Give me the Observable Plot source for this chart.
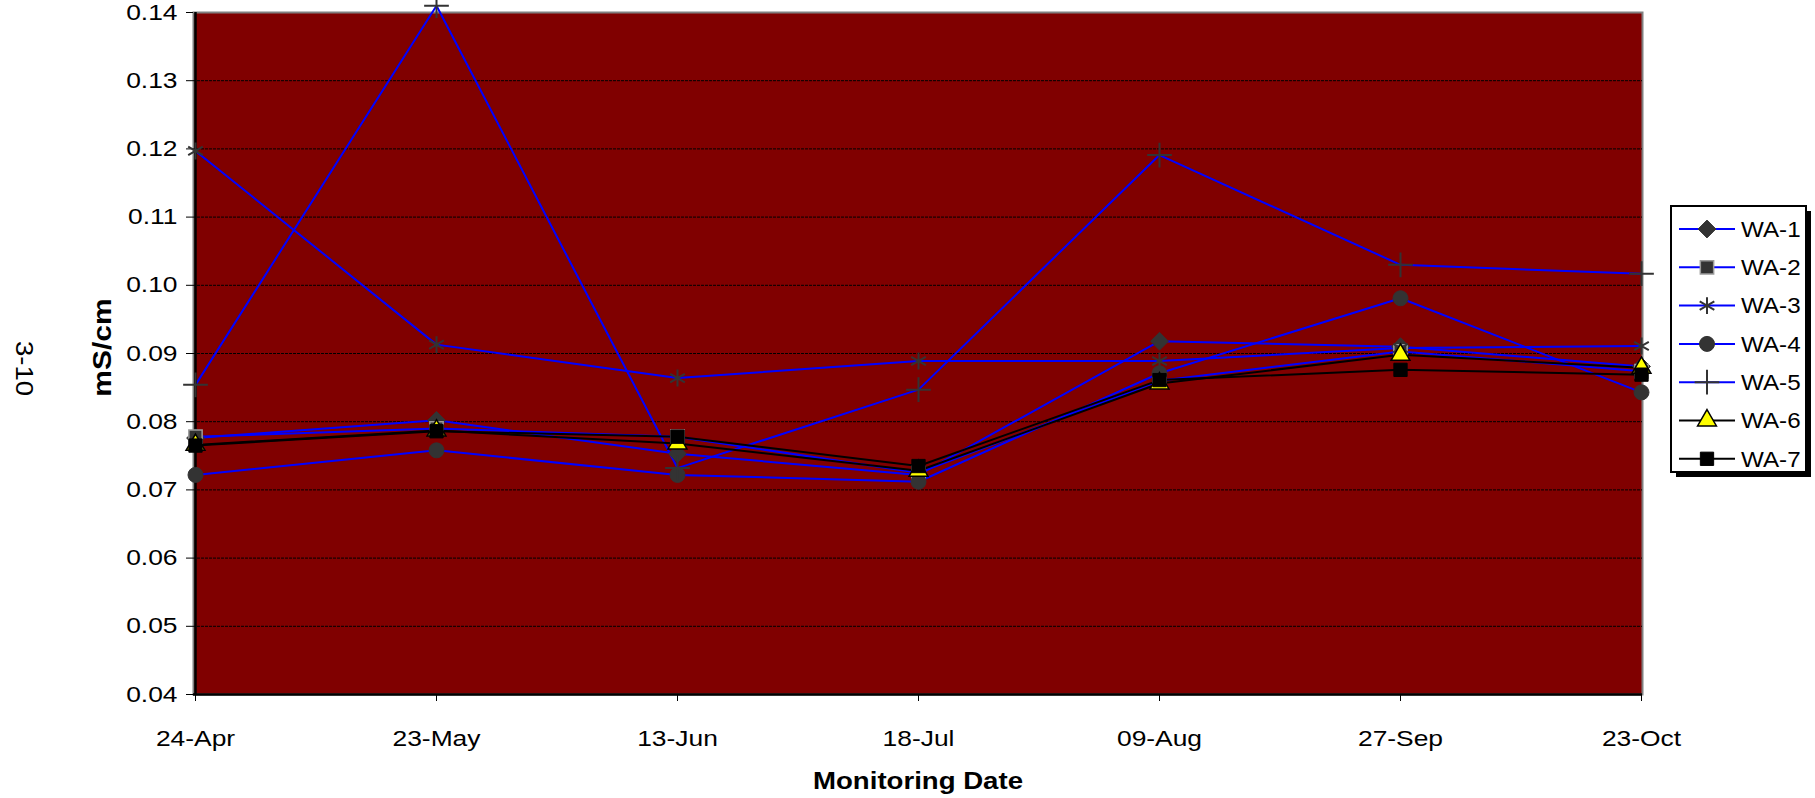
<!DOCTYPE html>
<html>
<head>
<meta charset="utf-8">
<script src="https://cdn.jsdelivr.net/npm/d3@7"></script>
<script src="https://cdn.jsdelivr.net/npm/@observablehq/plot@0.6"></script>
<style>
  html, body { margin: 0; padding: 0; background: #ffffff; }
  #wrap { position: relative; width: 1815px; height: 798px; }
  #legend { position: absolute; left: 0; top: 0; pointer-events: none; }
</style>
</head>
<body>
<div id="wrap"></div>
<script>
// ---- data ----
const dates = ["24-Apr", "23-May", "13-Jun", "18-Jul", "09-Aug", "27-Sep", "23-Oct"];
const seriesNames = ["WA-1", "WA-2", "WA-3", "WA-4", "WA-5", "WA-6", "WA-7"];
const wa1 = [0.0776, 0.0802, 0.0753, 0.0722, 0.0918, 0.0910, 0.0881];
const wa2 = [0.0778, 0.0790, 0.0778, 0.0725, 0.0860, 0.0903, 0.0874];
const wa3 = [0.1197, 0.0913, 0.0864, 0.0889, 0.0889, 0.0908, 0.0911];
const wa4 = [0.0722, 0.0758, 0.0722, 0.0712, 0.0871, 0.0981, 0.0843];
const wa5 = [0.0854, 0.1410, 0.0732, 0.0847, 0.1191, 0.1030, 0.1017];
const wa6 = [0.0766, 0.0787, 0.0768, 0.0728, 0.0856, 0.0898, 0.0879];
const wa7 = [0.0765, 0.0786, 0.0778, 0.0735, 0.0861, 0.0876, 0.0869];
const yTicks = [0.04, 0.05, 0.06, 0.07, 0.08, 0.09, 0.10, 0.11, 0.12, 0.13, 0.14];

// ---- styles per series ----
const values = [wa1, wa2, wa3, wa4, wa5, wa6, wa7];
const lineColor = ["#0000ff", "#0000ff", "#0000ff", "#0000ff", "#0000ff", "#000000", "#000000"];
const markerStyle = [
  {symbol: "diamond2", r: 8, fill: "#333333", stroke: "#333333", strokeWidth: 1},
  {symbol: "square", r: 7.5, fill: "#333333", stroke: "#9a9a9a", strokeWidth: 1.5},
  {symbol: "asterisk", r: 8, fill: "none", stroke: "#333333", strokeWidth: 2},
  {symbol: "circle", r: 7.5, fill: "#333333", stroke: "#333333", strokeWidth: 1},
  {symbol: "plus", r: 8, fill: "none", stroke: "#333333", strokeWidth: 2},
  {symbol: "triangle", r: 7, fill: "#ffff00", stroke: "#000000", strokeWidth: 1.5},
  {symbol: "square", r: 7.5, fill: "#000000", stroke: "#000000", strokeWidth: 1}
];

const rows = seriesNames.map((name, i) => dates.map((d, j) => ({series: name, date: d, value: values[i][j]})));

const FONT = "'Liberation Sans', Arial, sans-serif";

const marks = [
  Plot.frame({fill: "#800000", stroke: "#808080", strokeWidth: 2}),
  Plot.ruleY(yTicks.slice(1, -1), {stroke: "#000000", strokeWidth: 1, strokeDasharray: "3,1"}),
  Plot.axisX({tickSize: 7, tickPadding: 29, label: null, fontSize: 22, stroke: "#000"}),
  Plot.axisY({ticks: yTicks, tickSize: 7, tickPadding: 9, tickFormat: d => d.toFixed(2), label: null, fontSize: 22})
];
rows.forEach((r, i) => {
  marks.push(Plot.line(r, {x: "date", y: "value", stroke: lineColor[i], strokeWidth: 2}));
});
marks.push(Plot.ruleX([dates[0]], {stroke: "#000000", strokeWidth: 2.5}));
marks.push(Plot.ruleY([0.04], {stroke: "#000000", strokeWidth: 2.5}));
rows.forEach((r, i) => {
  const m = markerStyle[i];
  marks.push(Plot.dot(r, {x: "date", y: "value", symbol: m.symbol, r: m.r, fill: m.fill, stroke: m.stroke, strokeWidth: m.strokeWidth}));
});
marks.push(Plot.text(["mS/cm"], {frameAnchor: "left", textAnchor: "middle", dx: -91, dy: -6, rotate: -90, fontWeight: "bold", fontSize: 25}));
marks.push(Plot.text(["3-10"], {frameAnchor: "left", textAnchor: "middle", dx: -170, dy: 15, rotate: 90, fontSize: 23}));
marks.push(Plot.text(["Monitoring Date"], {frameAnchor: "bottom", textAnchor: "middle", dy: 94, fontWeight: "bold", fontSize: 23}));

const chart = Plot.plot({
  width: 1815,
  height: 798,
  marginLeft: 193,
  marginRight: 173,
  marginTop: 12,
  marginBottom: 104,
  style: {fontFamily: FONT, fontSize: "22px", color: "#000", background: "#fff", overflow: "visible"},
  x: {type: "point", domain: dates, padding: 0},
  y: {type: "linear", domain: [0.04, 0.14]},
  marks
});
document.getElementById("wrap").appendChild(chart);

// ---- legend (drawn with d3 from the series arrays) ----
const lg = d3.select("#wrap").append("svg")
  .attr("id", "legend").attr("width", 1815).attr("height", 798)
  .style("font-family", FONT);
const box = {x: 1671, y: 206, w: 135, h: 266};
lg.append("rect").attr("x", box.x + 5).attr("y", box.y + 5).attr("width", box.w).attr("height", box.h).attr("fill", "#000");
lg.append("rect").attr("x", box.x).attr("y", box.y).attr("width", box.w).attr("height", box.h)
  .attr("fill", "#fff").attr("stroke", "#000").attr("stroke-width", 2);
const symMap = {
  diamond2: d3.symbolDiamond2, square: d3.symbolSquare, asterisk: d3.symbolAsterisk,
  circle: d3.symbolCircle, plus: d3.symbolPlus, triangle: d3.symbolTriangle
};
seriesNames.forEach((name, i) => {
  const cy = box.y + 23 + i * 38.3;
  const g = lg.append("g");
  g.append("line").attr("x1", box.x + 8).attr("x2", box.x + 64).attr("y1", cy).attr("y2", cy)
    .attr("stroke", lineColor[i]).attr("stroke-width", 2);
  const m = markerStyle[i];
  g.append("path")
    .attr("transform", `translate(${box.x + 36},${cy})`)
    .attr("d", d3.symbol(symMap[m.symbol], m.r * m.r * Math.PI)())
    .attr("fill", m.fill).attr("stroke", m.stroke).attr("stroke-width", m.strokeWidth);
  g.append("text").attr("x", box.x + 70).attr("y", cy).attr("dy", "0.35em")
    .attr("font-size", 22).attr("fill", "#000").text(name);
});

// ---- widen glyphs along the baseline, as in the reference rendering ----
function stretch(nodes, k) {
  nodes.forEach(el => {
    const t = el.getAttribute("transform");
    if (t) {
      el.setAttribute("transform", t + ` scale(${k},1)`);
    } else {
      const len = el.getComputedTextLength();
      if (len > 0) {
        el.setAttribute("textLength", (len * k).toFixed(1));
        el.setAttribute("lengthAdjust", "spacingAndGlyphs");
      }
    }
  });
}
stretch(chart.querySelectorAll("text"), 1.2);
stretch(document.querySelectorAll("#legend text"), 1.1);
</script>
</body>
</html>
